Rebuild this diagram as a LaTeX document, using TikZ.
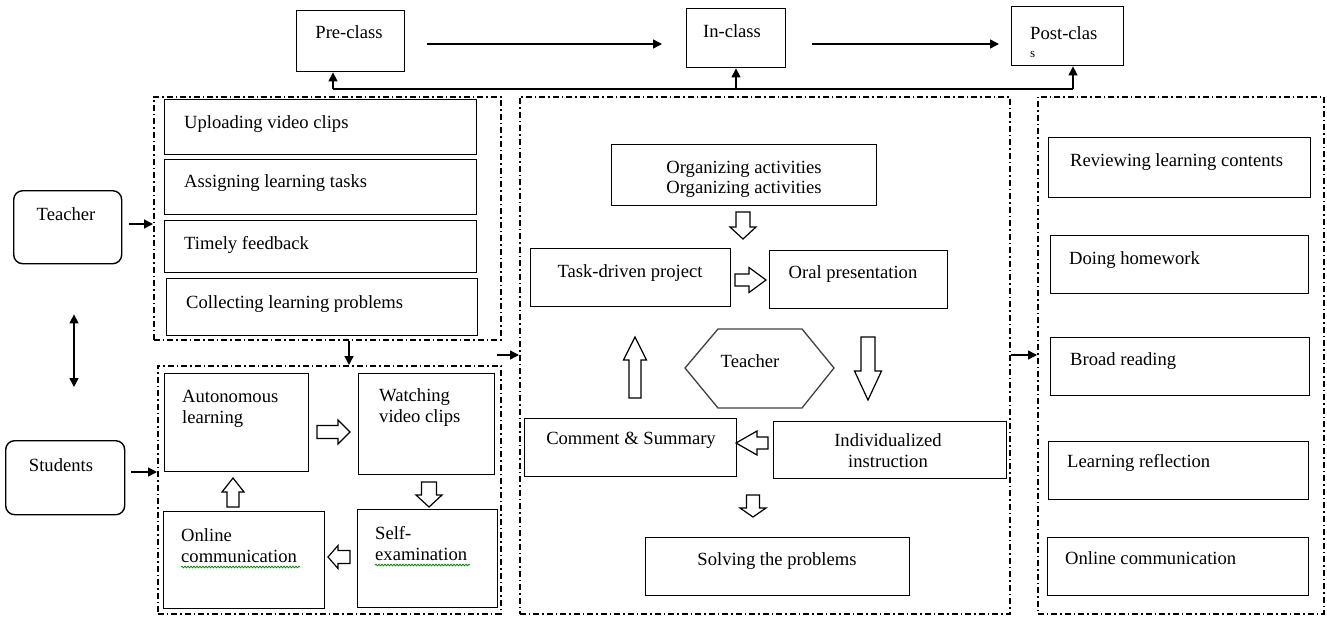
\documentclass[tikz,border=0pt]{standalone}
\usepackage{fontspec}
\setmainfont{Liberation Serif}
\usetikzlibrary{arrows.meta,decorations.pathmorphing}
\newcommand\myfs{\fontsize{18.6pt}{21pt}\selectfont}
\tikzset{
 box/.style={draw, line width=1.4pt, inner sep=0pt, anchor=north west},
 rbox/.style={box, rounded corners=9pt},
 sz/.style 2 args={minimum width=#1pt, minimum height=#2pt},
 dbox/.style={draw, line width=1.6pt, dash pattern=on 6pt off 3pt on 1.5pt off 3pt, inner sep=0pt, anchor=north west},
 txt/.style={font=\myfs, inner sep=0pt, anchor=base west, align=left},
 ctxt/.style={font=\myfs, inner sep=0pt, anchor=base, align=center},
 arr/.style={line width=1.4pt, -{Triangle[length=9pt,width=9pt]}},
 dblarr/.style={line width=1.4pt, {Triangle[length=9pt,width=9pt]}-{Triangle[length=9pt,width=9pt]}},
 hollow/.style={draw, line width=1.2pt, fill=white, line join=miter},
 pics/harrow/.style n args={4}{code={\path[hollow] (0,-#2) -- (#1-#4,-#2) -- (#1-#4,-#3) -- (#1,0) -- (#1-#4,#3) -- (#1-#4,#2) -- (0,#2) -- cycle;}},
 squig/.style={draw=green!55!black, line width=0.8pt, decorate, decoration={snake, amplitude=0.8pt, segment length=3pt}},
}
\begin{document}
\begin{tikzpicture}[x=1pt,y=-1pt]
\useasboundingbox (0,0) rectangle (1327,616);

% dash-dot containers
\node[dbox, sz={347}{243}] (tbox) at (153,96) {};
\node[dbox, sz={343}{248}] (sbox) at (157,365) {};
\node[dbox, sz={490}{517}] (inbox) at (519,96) {};
\node[dbox, sz={286}{517}] (postbox) at (1037,96) {};

% top stages
\node[box, sz={108}{61}] (pre) at (296,10) {};
\node[box, sz={99}{59}] (in) at (686,8) {};
\node[box, sz={112}{59}] (post) at (1011,6) {};
\node[ctxt] (tpre) at (349,38) {Pre-class};
\node[ctxt] (tin) at (732,37) {In-class};
\node[txt] (tpost) at (1030,57) {Post-clas\\[-3pt]{\fontsize{13pt}{14pt}\selectfont s}};

% actors
\node[rbox, sz={108}{73}] (teacher) at (13,190) {};
\node[ctxt] (tteacher) at (66,220) {Teacher};
\node[rbox, sz={119}{74}] (students) at (5,440) {};
\node[ctxt] (tstudents) at (61,471) {Students};

% pre-class teacher tasks
\node[box, sz={312}{55}] (up) at (164,99) {};
\node[box, sz={312}{55}] (as) at (164,159) {};
\node[box, sz={312}{52}] (tf) at (164,220) {};
\node[box, sz={311}{57}] (cl) at (166,278) {};
\node[txt] (tup) at (184,128) {Uploading video clips};
\node[txt] (tas) at (184,187) {Assigning learning tasks};
\node[txt] (ttf) at (184,249) {Timely feedback};
\node[txt] (tcl) at (186,308) {Collecting learning problems};

% pre-class student tasks
\node[box, sz={144}{98}] (au) at (164,373) {};
\node[box, sz={136}{101}] (wa) at (358,373) {};
\node[box, sz={140}{98}] (se) at (357,509) {};
\node[box, sz={161}{97}] (oc) at (163,511) {};
\node[txt] (tau) at (182,423) {Autonomous\\learning};
\node[txt] (twa) at (379,422) {Watching\\video clips};
\node[txt] (tse) at (375,560) {Self-\\examination};
\node[txt] (toc) at (181,562) {Online\\communication};
\draw[squig] (181,567) -- (300,567);
\draw[squig] (375,565) -- (470,565);

% in-class
\node[box, sz={265}{61}] (org) at (611,144) {};
\node[box, sz={200}{58}] (task) at (530,248) {};
\node[box, sz={178}{58}] (oral) at (769,250) {};
\node[box, sz={212}{58}] (com) at (524,418) {};
\node[box, sz={233}{57}] (ind) at (773,421) {};
\node[box, sz={264}{58}] (sol) at (645,537) {};
\draw[line width=1.3pt, draw=black!75] (685,368) -- (718,329) -- (802,329) -- (834,368) -- (802,408) -- (718,408) -- cycle;
\node[ctxt] (torg) at (744,193) {Organizing activities\\[-1pt]Organizing activities};
\node[ctxt] (ttask) at (630,277) {Task-driven project};
\node[ctxt] (toral) at (853,278) {Oral presentation};
\node[ctxt] (thex) at (750,367) {Teacher};
\node[ctxt] (tcom) at (631,444) {Comment \& Summary};
\node[ctxt] (tind) at (888,467) {Individualized\\instruction};
\node[ctxt] (tsol) at (777,565) {Solving the problems};

% post-class
\node[box, sz={262}{60}] (rev) at (1048,137) {};
\node[box, sz={258}{58}] (hw) at (1050,235) {};
\node[box, sz={259}{58}] (br) at (1050,337) {};
\node[box, sz={260}{58}] (lr) at (1048,441) {};
\node[box, sz={261}{58}] (oc2) at (1047,537) {};
\node[txt] (trev) at (1070,166) {Reviewing learning contents};
\node[txt] (thw) at (1069,264) {Doing homework};
\node[txt] (tbr) at (1070,365) {Broad reading};
\node[txt] (tlr) at (1067,467) {Learning reflection};
\node[txt] (toc2) at (1065,564) {Online communication};

% top flow
\draw[arr, shorten <=22pt, shorten >=24pt] (pre.east |- 0,44) -- (in.west |- 0,44);
\draw[arr, shorten <=26pt, shorten >=12pt] (in.east |- 0,44) -- (post.west |- 0,44);
\coordinate (fbL) at (333,89);
\coordinate (fbM) at (736,89);
\coordinate (fbR) at (1073,89);
\draw[line width=1.4pt] (fbL) -- (fbR);
\draw[arr] (fbL) -- (fbL |- pre.south);
\draw[arr] (fbM) -- (fbM |- in.south);
\draw[arr] (fbR) -- (fbR |- post.south);

% actor connectors
\draw[arr, shorten <=7pt] (teacher.east |- 0,224) -- (tbox.west |- 0,224);
\draw[arr, shorten <=6pt] (students.east |- 0,472) -- (sbox.west |- 0,472);
\draw[dblarr, shorten <=50pt, shorten >=53pt] (teacher.south -| 74,0) -- (students.north -| 74,0);
\draw[arr] (tbox.south -| 349,0) -- (sbox.north -| 349,0);
\coordinate (j1) at (497,355);
\draw[arr] (j1) -- (j1 -| inbox.west);
\draw[arr] (inbox.east |- 0,355) -- (postbox.west |- 0,355);

% hollow block arrows
\pic at (317,432) {harrow={33}{6.5}{12}{12}};
\pic[rotate=-90] at (429,482) {harrow={25}{7.5}{13}{12}};
\pic[rotate=180] at (350,557) {harrow={22}{6.5}{11.5}{10}};
\pic[rotate=90] at (233,507) {harrow={29}{6}{11}{14}};
\pic[rotate=-90] at (743,212) {harrow={27}{7}{13}{12}};
\pic at (735,280) {harrow={31}{6}{12.5}{17}};
\pic[rotate=90] at (635,398) {harrow={61}{6}{11.5}{23}};
\pic[rotate=-90] at (868,337) {harrow={63}{7}{13.5}{29}};
\pic[rotate=180] at (768,443) {harrow={32}{6}{12}{21}};
\pic[rotate=-90] at (753,495) {harrow={22}{6.5}{13}{9}};
\end{tikzpicture}
\end{document}
